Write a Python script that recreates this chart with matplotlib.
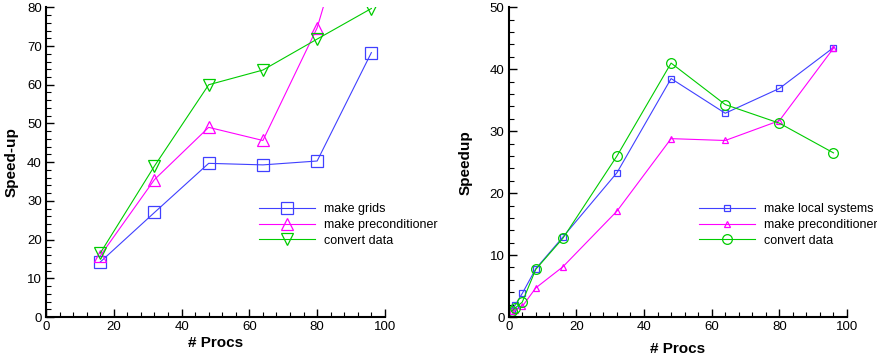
import matplotlib.pyplot as plt
from matplotlib.ticker import MultipleLocator

plt.rcParams['font.family'] = ['Liberation Sans', 'DejaVu Sans']

# left panel
procs_a = [16, 32, 48, 64, 80, 96]
grids = [14.2, 27.0, 39.7, 39.3, 40.3, 68.3]
precond_a = [15.8, 35.5, 49.0, 45.6, 74.7, 122.0]
convert_a = [16.5, 39.0, 60.0, 63.8, 71.8, 79.7]

# right panel
procs_b = [1, 2, 4, 8, 16, 32, 48, 64, 80, 96]
local_sys = [1.0, 2.0, 3.8, 7.8, 12.9, 23.3, 38.5, 32.9, 36.9, 43.5]
precond_b = [1.0, 1.1, 1.7, 4.7, 8.1, 17.1, 28.8, 28.5, 31.7, 43.4]
convert_b = [1.0, 1.5, 2.4, 7.7, 12.7, 26.0, 41.0, 34.3, 31.3, 26.5]

blue = '#4040ff'
mag = '#ff00ff'
green = '#00cc00'

fig = plt.figure(figsize=(8.78, 3.58), dpi=100)
ax1 = fig.add_axes([0.0524, 0.1145, 0.386, 0.865])
ax2 = fig.add_axes([0.5794, 0.1145, 0.3853, 0.865])

def style(ax, ymax, ylab, ylabpad):
    ax.set_xlim(0, 100)
    ax.set_ylim(0, ymax)
    ax.spines['top'].set_visible(False)
    ax.spines['right'].set_visible(False)
    for s in ['left', 'bottom']:
        ax.spines[s].set_linewidth(1.5)
    ax.xaxis.set_major_locator(MultipleLocator(20))
    ax.xaxis.set_minor_locator(MultipleLocator(4))
    ax.yaxis.set_minor_locator(MultipleLocator(2))
    ax.tick_params(which='major', direction='in', length=6, width=1, labelsize=9.5, pad=3)
    ax.tick_params(which='minor', direction='in', length=3.5, width=0.8)
    ax.set_ylabel(ylab, fontsize=11, fontweight='bold', labelpad=ylabpad)

leg_kw = dict(loc='center left', frameon=False, fontsize=9, handlelength=4.5,
              handletextpad=0.7, labelspacing=0.3, borderpad=0, borderaxespad=0)

style(ax1, 80, 'Speed-up', 6)
ax1.yaxis.set_major_locator(MultipleLocator(10))
ax1.set_xlabel('# Procs', fontsize=11, fontweight='bold', labelpad=2)
ax1.plot(procs_a, grids, color=blue, lw=0.8, marker='s', ms=8, mfc='none', mec=blue, mew=0.9, label='make grids')
ax1.plot(procs_a, precond_a, color=mag, lw=0.8, marker='^', ms=9, mfc='none', mec=mag, mew=0.9, label='make preconditioner')
ax1.plot(procs_a, convert_a, color=green, lw=0.8, marker='v', ms=9, mfc='none', mec=green, mew=0.9, label='convert data')
ax1.legend(bbox_to_anchor=(0.628, 0.297), **leg_kw)

style(ax2, 50, 'Speedup', 12)
ax2.yaxis.set_major_locator(MultipleLocator(10))
ax2.set_xlabel('# Procs', fontsize=11, fontweight='bold', labelpad=6)
ax2.plot(procs_b, local_sys, color=blue, lw=0.8, marker='s', ms=5, mfc='none', mec=blue, mew=0.9, label='make local systems')
ax2.plot(procs_b, precond_b, color=mag, lw=0.8, marker='^', ms=5, mfc='none', mec=mag, mew=0.9, label='make preconditioner')
ax2.plot(procs_b, convert_b, color=green, lw=0.8, marker='o', ms=7, mfc='none', mec=green, mew=0.9, label='convert data')
ax2.legend(bbox_to_anchor=(0.5625, 0.297), **leg_kw)

plt.savefig('out.png', dpi=100)
